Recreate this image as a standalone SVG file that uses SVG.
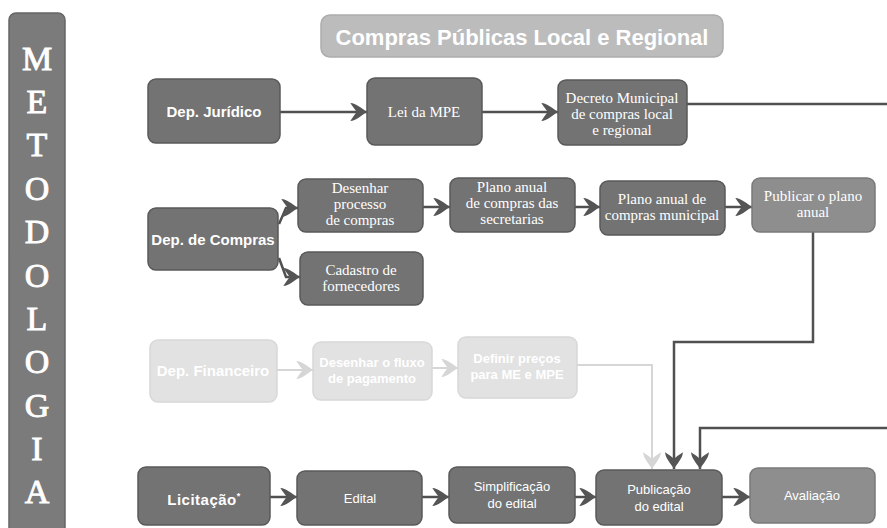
<svg xmlns="http://www.w3.org/2000/svg" width="887" height="528" viewBox="0 0 887 528">
<defs>
<style>
.box{fill:#737373;stroke:#595959;stroke-width:1.5}
.lite{fill:#8e8e8e;stroke:#7a7a7a;stroke-width:1.5}
.fade{fill:#e2e2e2;stroke:#d8d8d8;stroke-width:1.5}
.sb{font-family:"Liberation Sans",Arial,sans-serif;font-weight:bold;fill:#ffffff;text-anchor:middle}
.sr{font-family:"Liberation Serif","Times New Roman",serif;fill:#ffffff;text-anchor:middle;font-size:15px}
.ss{font-family:"Liberation Sans",Arial,sans-serif;fill:#ffffff;text-anchor:middle;font-size:13px}
.let{font-family:"Liberation Serif","Times New Roman",serif;font-size:34px;fill:#ffffff;stroke:#ffffff;stroke-width:0.9;text-anchor:middle}
.ln{fill:none;stroke:#505050;stroke-width:2.5}
.lnf{fill:none;stroke:#d6d6d6;stroke-width:2}
</style>
<marker id="ah" markerUnits="userSpaceOnUse" markerWidth="20" markerHeight="20" viewBox="-1 -9 18 18" refX="15" refY="0" orient="auto">
<path d="M0,-8 C5,-8 10,-3 15,0 C10,3 5,8 0,8 C2,5 4,2 6,0 C4,-2 2,-5 0,-8 Z" fill="#555555"/>
</marker>
<marker id="ahf" markerUnits="userSpaceOnUse" markerWidth="20" markerHeight="20" viewBox="-1 -9 18 18" refX="15" refY="0" orient="auto">
<path d="M0,-8 C5,-8 10,-3 15,0 C10,3 5,8 0,8 C2,5 4,2 6,0 C4,-2 2,-5 0,-8 Z" fill="#d6d6d6"/>
</marker>
</defs>
<rect width="887" height="528" fill="#ffffff"/>

<g id="metodologia">
<rect x="9" y="13" width="56" height="530" rx="7" fill="#7b7b7b" stroke="#666666" stroke-width="1.5"/>
<text class="let" x="37" y="70">M</text>
<text class="let" x="37" y="113">E</text>
<text class="let" x="37" y="156">T</text>
<text class="let" x="37" y="200">O</text>
<text class="let" x="37" y="243">D</text>
<text class="let" x="37" y="287">O</text>
<text class="let" x="37" y="330">L</text>
<text class="let" x="37" y="373">O</text>
<text class="let" x="37" y="417">G</text>
<text class="let" x="37" y="460">I</text>
<text class="let" x="37" y="503">A</text>
</g>

<g id="title">
<rect x="321" y="15" width="402" height="42" rx="9" fill="#bcbcbc" stroke="#acacac" stroke-width="1.5"/>
<text class="sb" x="522" y="45" font-size="22" fill="#f7f7f7">Compras Públicas Local e Regional</text>
</g>

<g id="connectors">
<path class="ln" d="M280,112 H367" marker-end="url(#ah)"/>
<path class="ln" d="M482,112 H558" marker-end="url(#ah)"/>
<path class="ln" d="M687,104 H887"/>
<path class="ln" d="M279,224 L286,208 H298" marker-end="url(#ah)"/>
<path class="ln" d="M279,258 L286,277 H300" marker-end="url(#ah)"/>
<path class="ln" d="M423,207 H450" marker-end="url(#ah)"/>
<path class="ln" d="M575,207 H600" marker-end="url(#ah)"/>
<path class="ln" d="M725,207 H752" marker-end="url(#ah)"/>
<path class="ln" d="M813,232 V342 H674 V469" marker-end="url(#ah)"/>
<path class="ln" d="M887,428 H700 V469" marker-end="url(#ah)"/>
<path class="lnf" d="M277,370 H313" marker-end="url(#ahf)"/>
<path class="lnf" d="M432,368 H458" marker-end="url(#ahf)"/>
<path class="lnf" d="M577,365 H652 V469" marker-end="url(#ahf)"/>
<path class="ln" d="M270,497 H297" marker-end="url(#ah)"/>
<path class="ln" d="M422,497 H449" marker-end="url(#ah)"/>
<path class="ln" d="M575,497 H596" marker-end="url(#ah)"/>
<path class="ln" d="M722,497 H750" marker-end="url(#ah)"/>
</g>

<g id="dep-juridico">
<rect class="box" x="148" y="79" width="132" height="64" rx="8"/>
<text class="sb" x="214" y="117" font-size="15">Dep. Jurídico</text>
</g>
<g id="lei-mpe">
<rect class="box" x="367" y="78" width="115" height="67" rx="8"/>
<text class="sr" x="424" y="117">Lei da MPE</text>
</g>
<g id="decreto">
<rect class="box" x="558" y="80" width="129" height="65" rx="8"/>
<text class="sr" x="622" y="103">Decreto Municipal</text>
<text class="sr" x="622" y="119">de compras local</text>
<text class="sr" x="622" y="135">e regional</text>
</g>

<g id="dep-compras">
<rect class="box" x="148" y="208" width="130" height="62" rx="8"/>
<text class="sb" x="213" y="245" font-size="15">Dep. de Compras</text>
</g>
<g id="desenhar-processo">
<rect class="box" x="298" y="179" width="125" height="53" rx="8"/>
<text class="sr" x="360" y="193">Desenhar</text>
<text class="sr" x="360" y="209">processo</text>
<text class="sr" x="360" y="225">de compras</text>
</g>
<g id="plano-secretarias">
<rect class="box" x="450" y="178" width="125" height="54" rx="8"/>
<text class="sr" x="512" y="192">Plano anual</text>
<text class="sr" x="512" y="208">de compras das</text>
<text class="sr" x="512" y="224">secretarias</text>
</g>
<g id="plano-municipal">
<rect class="box" x="600" y="181" width="125" height="54" rx="8"/>
<text class="sr" x="662" y="204">Plano anual de</text>
<text class="sr" x="662" y="220">compras municipal</text>
</g>
<g id="publicar-plano">
<rect class="lite" x="752" y="178" width="123" height="54" rx="8"/>
<text class="sr" x="813" y="201">Publicar o plano</text>
<text class="sr" x="813" y="217">anual</text>
</g>
<g id="cadastro">
<rect class="box" x="300" y="252" width="123" height="53" rx="8"/>
<text class="sr" x="361" y="275">Cadastro de</text>
<text class="sr" x="361" y="291">fornecedores</text>
</g>

<g id="dep-financeiro">
<rect class="fade" x="150" y="340" width="127" height="62" rx="8"/>
<text class="sb" x="213" y="376" font-size="15">Dep. Financeiro</text>
</g>
<g id="fluxo-pagamento">
<rect class="fade" x="313" y="342" width="119" height="58" rx="8"/>
<text class="sb" x="372" y="367" font-size="13">Desenhar o fluxo</text>
<text class="sb" x="372" y="383" font-size="13">de pagamento</text>
</g>
<g id="definir-precos">
<rect class="fade" x="458" y="337" width="119" height="61" rx="8"/>
<text class="sb" x="517" y="363" font-size="13">Definir preços</text>
<text class="sb" x="517" y="379" font-size="13">para ME e MPE</text>
</g>

<g id="licitacao">
<rect class="box" x="138" y="467" width="132" height="58" rx="8"/>
<text class="sb" x="204" y="505" font-size="15" letter-spacing="0.5">Licitação<tspan font-size="9" dy="-6">*</tspan></text>
</g>
<g id="edital">
<rect class="box" x="297" y="471" width="125" height="54" rx="8"/>
<text class="ss" x="360" y="503">Edital</text>
</g>
<g id="simplificacao">
<rect class="box" x="449" y="467" width="126" height="56" rx="8"/>
<text class="ss" x="512" y="491">Simplificação</text>
<text class="ss" x="512" y="508">do edital</text>
</g>
<g id="publicacao">
<rect class="box" x="596" y="470" width="126" height="55" rx="8"/>
<text class="ss" x="659" y="494">Publicação</text>
<text class="ss" x="659" y="511">do edital</text>
</g>
<g id="avaliacao">
<rect class="lite" x="750" y="468" width="125" height="55" rx="8"/>
<text class="ss" x="812" y="500">Avaliação</text>
</g>
</svg>
